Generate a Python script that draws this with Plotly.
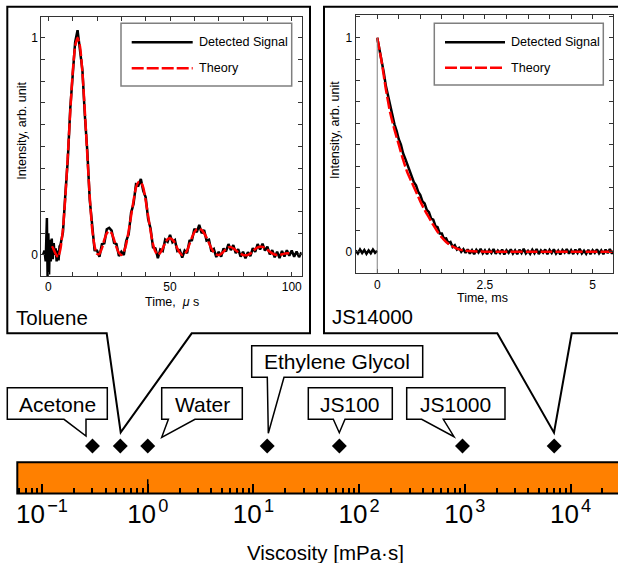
import plotly.graph_objects as go

FONT = "Liberation Sans, Arial, sans-serif"
W, H = 618, 563

# ---------------- data ----------------
# Toluene (time in microseconds)
TOL_T_START = [-2.2, -1.6, -1.1, -0.6, -0.3, 0.0, 0.3, 0.6, 1.0, 1.4, 1.8, 2.2, 2.6, 3.0, 3.4, 3.8, 4.2, 4.6]
TOL_SIG_START = [0.0, 0.02, -0.03, 0.17, -0.12, 0.1, -0.09, 0.07, -0.03, 0.075, -0.02, 0.055, 0.0, 0.03, -0.03, 0.02, -0.025, 0.04]
TOL_T_MAIN = list(range(5, 105))
TOL_SIG_MAIN = [
    0.048, 0.105, 0.282, 0.44, 0.675, 0.83, 0.98, 1.035, 0.944, 0.85,
    0.642, 0.478, 0.255, 0.132, 0.022, 0.02, -0.008, 0.05, 0.054, 0.118,
    0.125, 0.112, 0.055, 0.05, -0.005, 0.015, 0.0, 0.065, 0.095, 0.195,
    0.235, 0.325, 0.32, 0.35, 0.295, 0.265, 0.165, 0.122, 0.035, 0.03,
    -0.015, 0.025, 0.018, 0.07, 0.06, 0.092, 0.058, 0.068, 0.018, 0.022,
    -0.012, 0.02, 0.008, 0.065, 0.068, 0.12, 0.105, 0.138, 0.1, 0.115,
    0.066, 0.07, 0.016, 0.027, -0.01, 0.015, -0.008, 0.03, 0.016, 0.05,
    0.022, 0.045, 0.008, 0.027, -0.008, 0.015, -0.015, 0.013, -0.006, 0.031,
    0.014, 0.05, 0.025, 0.052, 0.02, 0.038, 0.002, 0.022, -0.011, 0.015,
    -0.014, 0.018, -0.007, 0.022, -0.004, 0.02, -0.008, 0.016, -0.01, 0.012,
]
TOL_T_THEORY = [1.5] + list(range(2, 100))
TOL_THEORY = [
    0.04, 0.03, 0.005, -0.01, 0.03, 0.12, 0.27, 0.46, 0.66, 0.84,
    0.96, 1.0, 0.96, 0.84, 0.66, 0.46, 0.27, 0.12, 0.04, 0.005,
    0.005, 0.03, 0.07, 0.10, 0.11, 0.10, 0.07, 0.035, 0.01, 0.0,
    0.015, 0.05, 0.11, 0.18, 0.25, 0.31, 0.335, 0.335, 0.31, 0.25,
    0.18, 0.11, 0.05, 0.015, 0.0, 0.01, 0.03, 0.055, 0.072, 0.077,
    0.07, 0.055, 0.03, 0.01, 0.0, 0.005, 0.02, 0.05, 0.08, 0.105,
    0.118, 0.12, 0.115, 0.1, 0.08, 0.055, 0.03, 0.012, 0.003, 0.0,
    0.005, 0.015, 0.028, 0.035, 0.036, 0.03, 0.022, 0.012, 0.005, 0.0,
    -0.002, 0.0, 0.006, 0.016, 0.027, 0.035, 0.038, 0.037, 0.032, 0.024,
    0.015, 0.007, 0.002, 0.0, 0.0, 0.003, 0.006, 0.008, 0.008,
]

# JS14000 (time in milliseconds)
JS_T_PRE = [round(-0.5 + 0.05 * i, 2) for i in range(11)]
JS_SIG_PRE = [0.005, -0.008, 0.01, -0.006, 0.008, -0.01, 0.006, -0.007, 0.01, -0.005, 0.004]
JS_T_DECAY = [round(0.05 * i, 2) for i in range(41)]
JS_SIG_DECAY = [
    1.0, 0.95, 0.9, 0.84, 0.775, 0.73, 0.675, 0.64, 0.595, 0.565,
    0.525, 0.5, 0.46, 0.435, 0.405, 0.38, 0.355, 0.325, 0.31, 0.28,
    0.265, 0.235, 0.225, 0.195, 0.185, 0.155, 0.15, 0.12, 0.115, 0.085,
    0.085, 0.06, 0.062, 0.04, 0.045, 0.022, 0.03, 0.01, 0.018, 0.0,
    0.012,
]
JS_T_FLAT = [round(2.05 + 0.05 * i, 2) for i in range(70)]
JS_SIG_FLAT = [
    -0.006, 0.011, -0.009, 0.007, -0.012, 0.009, -0.004, 0.013, -0.008, 0.006,
    -0.011, 0.008, -0.006, 0.012, -0.01, 0.005, -0.007, 0.01, -0.013, 0.007,
    -0.005, 0.011, -0.009, 0.006, -0.012, 0.009, -0.006, 0.013, -0.008, 0.004,
    -0.01, 0.009, -0.007, 0.012, -0.011, 0.006, -0.005, 0.01, -0.012, 0.008,
    -0.006, 0.011, -0.009, 0.005, -0.013, 0.008, -0.004, 0.012, -0.009, 0.007,
    -0.011, 0.01, -0.006, 0.013, -0.008, 0.005, -0.01, 0.009, -0.012, 0.007,
    -0.005, 0.011, -0.008, 0.006, -0.012, 0.01, -0.007, 0.012, -0.009, 0.006,
]
JS_T_THEORY = [round(0.1 * i, 1) for i in range(21)] + [2.2, 2.5, 3.0, 3.5, 4.0, 4.5, 5.0, 5.5]
JS_THEORY = [
    1.0, 0.89, 0.76, 0.65, 0.57, 0.50, 0.43, 0.37, 0.325, 0.28,
    0.235, 0.195, 0.16, 0.125, 0.093, 0.066, 0.045, 0.03, 0.019, 0.011,
    0.006, 0.002, 0.0, 0.0, 0.0, 0.0, 0.0, 0.0, 0.0,
]

# Viscosity scale [mPa·s]
LIQUIDS = ["Acetone", "Toluene", "Water", "Ethylene Glycol", "JS100", "JS1000", "JS14000"]
VISCOSITY = [0.30, 0.55, 1.0, 13.5, 65, 950, 7000]
DECADE_TICKS = [0.1, 1, 10, 100, 1000, 10000]
DECADE_LABELS = ["10\u200a<sup>\u22121</sup>", "10\u200a<sup>0</sup>", "10\u200a<sup>1</sup>",
                 "10\u200a<sup>2</sup>", "10\u200a<sup>3</sup>", "10\u200a<sup>4</sup>"]

assert len(TOL_T_MAIN) == len(TOL_SIG_MAIN)
assert len(TOL_T_THEORY) == len(TOL_THEORY)
assert len(JS_T_DECAY) == len(JS_SIG_DECAY)
assert len(JS_T_FLAT) == len(JS_SIG_FLAT)
assert len(JS_T_THEORY) == len(JS_THEORY)


def px(x):
    return x / W


def py(y):
    return 1 - y / H


fig = go.Figure()

RED_DASH = "12px,3px"

# Toluene inset
fig.add_trace(go.Scatter(x=TOL_T_START + TOL_T_MAIN, y=TOL_SIG_START + TOL_SIG_MAIN,
                         mode="lines", line=dict(color="black", width=2.5),
                         xaxis="x", yaxis="y", name="Detected Signal"))
fig.add_trace(go.Scatter(x=TOL_T_THEORY, y=TOL_THEORY, mode="lines",
                         line=dict(color="#ff0000", width=2.5, dash=RED_DASH, shape="spline", smoothing=0.6),
                         xaxis="x", yaxis="y", name="Theory"))

# JS14000 inset
fig.add_trace(go.Scatter(x=JS_T_PRE + [None] + JS_T_DECAY + JS_T_FLAT,
                         y=JS_SIG_PRE + [None] + JS_SIG_DECAY + JS_SIG_FLAT,
                         mode="lines", line=dict(color="black", width=2.5),
                         xaxis="x2", yaxis="y2", name="Detected Signal"))
fig.add_trace(go.Scatter(x=JS_T_THEORY, y=JS_THEORY, mode="lines",
                         line=dict(color="#ff0000", width=2.5, dash=RED_DASH, shape="spline", smoothing=0.6),
                         xaxis="x2", yaxis="y2", name="Theory"))

# invisible anchor trace so the viscosity axis subplot exists
fig.add_trace(go.Scatter(x=[VISCOSITY[2]], y=[0.5], mode="markers",
                         marker=dict(opacity=0), hoverinfo="skip",
                         xaxis="x3", yaxis="y3"))

# Viscosity markers
fig.add_trace(go.Scatter(x=VISCOSITY, y=[0.5] * len(VISCOSITY), mode="markers",
                         marker=dict(symbol="diamond", size=11.5, color="black"),
                         text=LIQUIDS, xaxis="x3", yaxis="y4", cliponaxis=False))

inset_common = dict(showline=True, linecolor="#333", linewidth=1, mirror="ticks",
                    ticks="inside", ticklen=4, tickcolor="#333", tickwidth=1, automargin=False,
                    showgrid=False, zeroline=False, tickfont=dict(size=12, family=FONT))

fig.update_layout(
    width=W, height=H, margin=dict(l=0, r=0, t=0, b=0, autoexpand=False),
    paper_bgcolor="white", plot_bgcolor="rgba(0,0,0,0)",
    showlegend=False, font=dict(family=FONT, color="black"),
    xaxis=dict(domain=[px(41.3), px(301.7)], range=[-2.9, 104.1], anchor="y",
               tickvals=[0, 50, 100], ticktext=["0", "50", "100"],
               minor=dict(tickmode="linear", tick0=0, dtick=10, ticks="inside", ticklen=4,
                          tickcolor="#333", showgrid=False),
               **inset_common),
    yaxis=dict(domain=[py(276), py(16.7)], range=[-0.097, 1.097], anchor="x",
               tickvals=[0, 1], ticktext=["0", "1"],
               minor=dict(tickmode="linear", tick0=0, dtick=0.1, ticks="inside", ticklen=4,
                          tickcolor="#333", showgrid=False),
               **inset_common),
    xaxis2=dict(domain=[px(355.7), px(613.3)], range=[-0.5, 5.48], anchor="y2",
                tickvals=[0, 2.5, 5], ticktext=["0", "2.5", "5"],
                minor=dict(tickmode="linear", tick0=0, dtick=0.5, ticks="inside", ticklen=4,
                           tickcolor="#333", showgrid=False),
                **inset_common),
    yaxis2=dict(domain=[py(273.3), py(15)], range=[-0.101, 1.106], anchor="x2",
                tickvals=[0, 1], ticktext=["0", "1"],
                minor=dict(tickmode="linear", tick0=0, dtick=0.1, ticks="inside", ticklen=4,
                           tickcolor="#333", showgrid=False),
                **inset_common),
    xaxis3=dict(type="log", domain=[px(17.3), 1.0], range=[-1.234, 4.449], anchor="y3",
                side="bottom", automargin=False,
                tickvals=DECADE_TICKS, ticktext=DECADE_LABELS,
                ticks="inside", ticklen=10, tickwidth=1.5, tickcolor="black",
                tickfont=dict(size=26, family=FONT), ticklabelstandoff=2,
                minor=dict(tickmode="array",
                           tickvals=[m * d for d in [0.01, 0.1, 1, 10, 100, 1000, 10000] for m in range(2, 10)],
                           ticks="inside", ticklen=5.5, tickwidth=1.5, tickcolor="black", showgrid=False),
                showline=False, showgrid=False, zeroline=False),
    yaxis3=dict(domain=[py(493.5), py(462.3)], range=[0, 1], anchor="x3", automargin=False,
                showticklabels=False, showgrid=False, zeroline=False, showline=False, ticks=""),
    yaxis4=dict(domain=[py(453), py(439)], range=[0, 1], anchor="x3", visible=False, automargin=False),
)

shapes = []
annotations = []


def poly(points, width=1.5, fill="white"):
    d = "M " + " L ".join(f"{px(x):.5f},{py(y):.5f}" for x, y in points) + " Z"
    return dict(type="path", path=d, xref="paper", yref="paper",
                line=dict(color="black", width=width), fillcolor=fill, layer="below")


# viscosity bar
shapes.append(dict(type="rect", xref="paper", yref="paper",
                   x0=px(17.3), x1=px(640), y0=py(493.5), y1=py(462.3),
                   fillcolor="#ff8000", line=dict(color="black", width=2), layer="below"))
# longer tick at 10^0
shapes.append(dict(type="line", xref="x3", yref="paper", x0=1, x1=1,
                   y0=py(493.5), y1=py(479.3), line=dict(color="black", width=1.5)))

# big callout boxes
shapes.append(poly([(7.3, 6.7), (310, 6.7), (310, 333.3), (191.7, 333.3), (120.7, 432.3),
                    (106.7, 333.3), (7.3, 333.3)], width=2, fill="rgba(0,0,0,0)"))
shapes.append(poly([(324, 6.7), (640, 6.7), (640, 333.3), (571.7, 333.3), (554, 432.7),
                    (497.3, 333.3), (324, 333.3)], width=2, fill="rgba(0,0,0,0)"))
# small callouts
shapes.append(poly([(7.3, 387.7), (107.3, 387.7), (107.3, 419.3), (86, 419.3), (86, 436),
                    (64, 419.3), (7.3, 419.3)]))
shapes.append(poly([(161.7, 387.7), (242.3, 387.7), (242.3, 419.3), (195, 419.3), (161.7, 437.3),
                    (168.4, 419.3), (161.7, 419.3)]))
shapes.append(poly([(251.7, 345.7), (422.7, 345.7), (422.7, 377.3), (284, 377.3), (268.3, 433.3),
                    (267.3, 377.3), (251.7, 377.3)]))
shapes.append(poly([(308.3, 387.7), (392.3, 387.7), (392.3, 419.3), (345, 419.3), (339.3, 432.7),
                    (333.3, 419.3), (308.3, 419.3)]))
shapes.append(poly([(406.7, 387.7), (505, 387.7), (505, 419.3), (443.3, 419.3), (454, 436.7),
                    (421.7, 419.3), (406.7, 419.3)]))

# gray vertical line at t=0 in JS14000 inset
shapes.append(dict(type="line", xref="x2", yref="y2", x0=0, x1=0, y0=-0.101, y1=1.0,
                   line=dict(color="#808080", width=1)))

# manual legends
for (bx0, by0, bx1, by1, lx0, lx1, ly1, ly2, tx) in [
    (121, 23.3, 291.7, 86, 131.7, 192.7, 42.3, 68.3, 196.7),
    (434.3, 23.3, 603.3, 85, 445, 505, 42.3, 67.7, 509),
]:
    shapes.append(dict(type="rect", xref="paper", yref="paper", x0=px(bx0), x1=px(bx1),
                       y0=py(by1), y1=py(by0), line=dict(color="#7f7f7f", width=1.5),
                       fillcolor="white"))
    shapes.append(dict(type="line", xref="paper", yref="paper", x0=px(lx0), x1=px(lx1),
                       y0=py(ly1), y1=py(ly1), line=dict(color="black", width=2.5)))
    shapes.append(dict(type="line", xref="paper", yref="paper", x0=px(lx0), x1=px(lx1),
                       y0=py(ly2), y1=py(ly2), line=dict(color="#ff0000", width=2.5, dash=RED_DASH)))
    annotations.append(dict(text="Detected Signal", x=px(tx), y=py(ly1), xanchor="left",
                            yanchor="middle", showarrow=False, font=dict(size=12.6)))
    annotations.append(dict(text="Theory", x=px(tx), y=py(ly2), xanchor="left",
                            yanchor="middle", showarrow=False, font=dict(size=12.6)))


def label(text, x, y, size, xanchor="center", angle=0):
    annotations.append(dict(text=text, x=px(x), y=py(y), xref="paper", yref="paper",
                            xanchor=xanchor, yanchor="middle", showarrow=False,
                            textangle=angle, font=dict(size=size)))


label("Intensity, arb. unit", 21.3, 130.5, 12.5, angle=-90)
label("Intensity, arb. unit", 335, 130, 12.5, angle=-90)
label("Time,  <i>\u03bc</i> s", 171.5, 302, 12.5)
label("Time, ms", 482.8, 298, 12.5)
label("Toluene", 14, 317, 20.5, xanchor="left")
label("JS14000", 330.5, 316.7, 20.5, xanchor="left")
label("Acetone", 57.3, 404, 21)
label("Water", 202, 404, 21)
label("Ethylene Glycol", 337.2, 361.5, 21)
label("JS100", 350.3, 404, 21)
label("JS1000", 455.8, 404, 21)
label("Viscosity [mPa\u00b7s]", 326, 552, 20.5)

for s in shapes:
    fig.add_shape(**s)
for a in annotations:
    a.setdefault("xref", "paper")
    a.setdefault("yref", "paper")
    fig.add_annotation(**a)

fig.write_html("out.html", config={"displayModeBar": False},
               post_script="document.body.style.margin='0';document.body.style.overflow='hidden';")
